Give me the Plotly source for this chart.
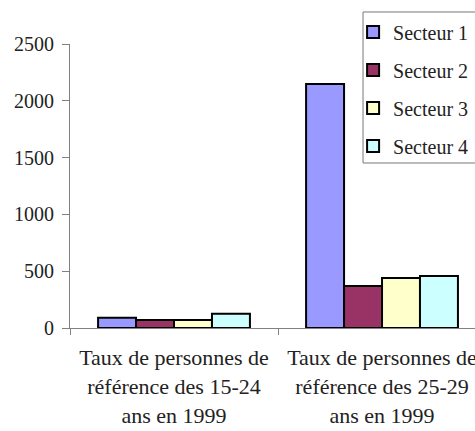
import plotly.graph_objects as go

categories = ["Taux de personnes de<br>référence des 15-24<br>ans en 1999",
              "Taux de personnes de<br>référence des 25-29<br>ans en 1999"]
series_names = ["Secteur 1", "Secteur 2", "Secteur 3", "Secteur 4"]
secteur1 = [91, 2148]
secteur2 = [70, 370]
secteur3 = [70, 440]
secteur4 = [126, 458]
colors = ["#9999FF", "#993366", "#FFFFCC", "#CCFFFF"]
y_ticks = [0, 500, 1000, 1500, 2000, 2500]

values = [secteur1, secteur2, secteur3, secteur4]
font = "Liberation Serif"
txt = "#222222"

fig = go.Figure()
for i, (name, vals) in enumerate(zip(series_names, values)):
    fig.add_trace(go.Bar(
        x=categories, y=vals, name=name, legendgroup=name,
        marker=dict(color=colors[i], line=dict(color="black", width=2)),
    ))

fig.update_layout(
    width=475, height=431,
    margin=dict(l=70, r=0, t=44, b=103, autoexpand=False),
    paper_bgcolor="white", plot_bgcolor="white",
    barmode="group", bargap=0.27, bargroupgap=0,
    font=dict(family=font, size=20, color=txt),
    showlegend=True,
    legend=dict(
        x=0.699, y=1.111, xanchor="left", yanchor="top",
        borderwidth=0, bgcolor="rgba(0,0,0,0)",
        font=dict(family=font, size=20, color=txt),
        tracegroupgap=9,
    ),
    shapes=[dict(
        type="rect", xref="paper", yref="paper",
        x0=0.7235, x1=1.1, y0=0.581, y1=1.1127,
        line=dict(color="#777777", width=1), fillcolor="white", layer="below",
    )],
    xaxis=dict(
        type="category", range=[-0.5, 1.447],
        showline=True, linecolor="#808080", linewidth=1,
        ticks="outside", ticklen=6, tickcolor="#808080",
        tickson="boundaries", ticklabelstandoff=10,
        tickfont=dict(family=font, size=22, color=txt),
        showgrid=False,
    ),
    yaxis=dict(
        range=[0, 2500], tickvals=y_ticks,
        showline=True, linecolor="#808080", linewidth=1,
        ticks="outside", ticklen=7, tickcolor="#808080",
        ticklabelstandoff=4,
        tickfont=dict(family=font, size=20, color=txt),
        showgrid=False, zeroline=False,
    ),
)

fig.write_html(
    "out.html",
    config={"displayModeBar": False},
    post_script="document.body.style.margin='0';document.body.style.overflow='hidden';",
)
